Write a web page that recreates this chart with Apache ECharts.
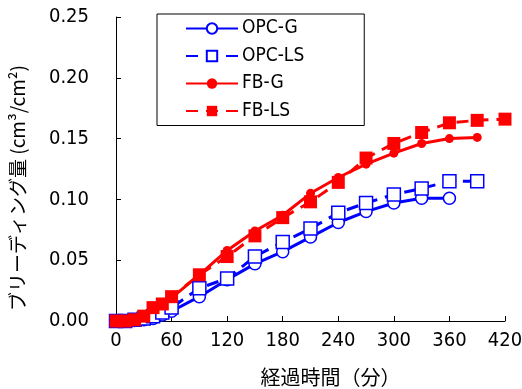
<!DOCTYPE html>
<html>
<head>
<meta charset="utf-8">
<script src="https://cdn.jsdelivr.net/npm/echarts@6/dist/echarts.min.js"></script>
<style>
  html, body { margin: 0; padding: 0; background: #fff; }
  #chart { width: 522px; height: 389px; }
</style>
</head>
<body>
<div id="chart"></div>
<script>
// Elapsed time (minutes)
const times = [0, 10, 20, 30, 40, 50, 60, 90, 120, 150, 180, 210, 240, 270, 300, 330, 360, 390, 420];

// Bleeding amount (cm3/cm2) per mix
const opcG  = [0, 0, 0.0005, 0.001, 0.002, 0.005, 0.008, 0.020, 0.034, 0.047, 0.057, 0.069, 0.081, 0.090, 0.097, 0.101, 0.101, null, null];
const opcLS = [0, 0, 0.001, 0.002, 0.004, 0.007, 0.011, 0.027, 0.035, 0.053, 0.065, 0.076, 0.089, 0.097, 0.104, 0.109, 0.115, 0.115, null];
const fbG   = [0, 0, 0.001, 0.004, 0.010, 0.013, 0.019, 0.038, 0.058, 0.074, 0.087, 0.105, 0.118, 0.129, 0.138, 0.146, 0.150, 0.151, null];
const fbLS  = [0, 0, 0.001, 0.004, 0.011, 0.014, 0.020, 0.038, 0.053, 0.070, 0.085, 0.098, 0.114, 0.134, 0.146, 0.155, 0.163, 0.165, 0.166];

const seriesNames = ['OPC-G', 'OPC-LS', 'FB-G', 'FB-LS'];

const FONT = '"Noto Sans CJK JP", "Noto Sans", sans-serif';
const NARROW = '"Liberation Sans Narrow", "DejaVu Sans Condensed", "Noto Sans CJK JP", sans-serif';
const BLUE = '#0000ff';
const RED = '#ff0000';

function pairs(vals) {
  return times.map((t, i) => [t, vals[i]]).filter(p => p[1] !== null);
}

const chart = echarts.init(document.getElementById('chart'), null, { renderer: 'canvas' });

chart.setOption({
  animation: false,
  backgroundColor: '#fff',
  grid: { left: 116, right: 17, top: 17, bottom: 68, containLabel: false, outerBoundsMode: 'none' },
  legend: {
    orient: 'vertical',
    left: 157,
    top: 14,
    width: 173,
    padding: [5, 60, 5, 28],
    itemWidth: 52,
    itemHeight: 13,
    itemGap: 8.5,
    borderColor: '#000',
    borderWidth: 1,
    textStyle: { fontFamily: NARROW, fontSize: 19, lineHeight: 15, color: '#000', padding: [0, 0, 0, -1] },
    data: seriesNames
  },
  xAxis: {
    type: 'value',
    min: 0,
    max: 420,
    interval: 60,
    name: '経過時間（分）',
    nameLocation: 'middle',
    nameGap: 46,
    nameTextStyle: { fontFamily: FONT, fontSize: 20, color: '#000', padding: [0, 0, 0, 40] },
    axisLine: { lineStyle: { color: '#000', width: 1 } },
    axisTick: { inside: true, length: 5, lineStyle: { color: '#000' } },
    axisLabel: { fontFamily: NARROW, fontSize: 20, color: '#000', margin: 10 },
    splitLine: { show: false }
  },
  yAxis: {
    type: 'value',
    min: 0,
    max: 0.25,
    interval: 0.05,
    name: 'ブリーディング量 (cm³/cm²)',
    nameLocation: 'middle',
    nameRotate: 90,
    nameGap: 89,
    nameTextStyle: { fontFamily: FONT, fontSize: 19, color: '#000', padding: [0, 38, 0, 0] },
    axisLine: { show: true, lineStyle: { color: '#000', width: 1 } },
    axisTick: { show: true, inside: true, length: 5, lineStyle: { color: '#000' } },
    axisLabel: {
      fontFamily: NARROW, fontSize: 20, color: '#000', margin: 27,
      formatter: v => v.toFixed(2)
    },
    splitLine: { show: false }
  },
  series: [
    {
      name: 'OPC-G', type: 'line', data: pairs(opcG), clip: false,
      symbol: 'circle', symbolSize: 12,
      lineStyle: { color: BLUE, width: 3, type: 'solid' },
      itemStyle: { color: '#fff', borderColor: BLUE, borderWidth: 1.5 }
    },
    {
      name: 'OPC-LS', type: 'line', data: pairs(opcLS), clip: false,
      symbol: 'rect', symbolSize: 13,
      lineStyle: { color: BLUE, width: 3, type: [12, 8] },
      itemStyle: { color: '#fff', borderColor: BLUE, borderWidth: 1.5 }
    },
    {
      name: 'FB-G', type: 'line', data: pairs(fbG), clip: false,
      symbol: 'circle', symbolSize: 9,
      lineStyle: { color: RED, width: 3, type: 'solid' },
      itemStyle: { color: RED, borderColor: RED, borderWidth: 0 }
    },
    {
      name: 'FB-LS', type: 'line', data: pairs(fbLS), clip: false,
      symbol: 'rect', symbolSize: 13,
      lineStyle: { color: RED, width: 3, type: [12, 8] },
      itemStyle: { color: RED, borderColor: RED, borderWidth: 0 }
    }
  ]
});
</script>
</body>
</html>
